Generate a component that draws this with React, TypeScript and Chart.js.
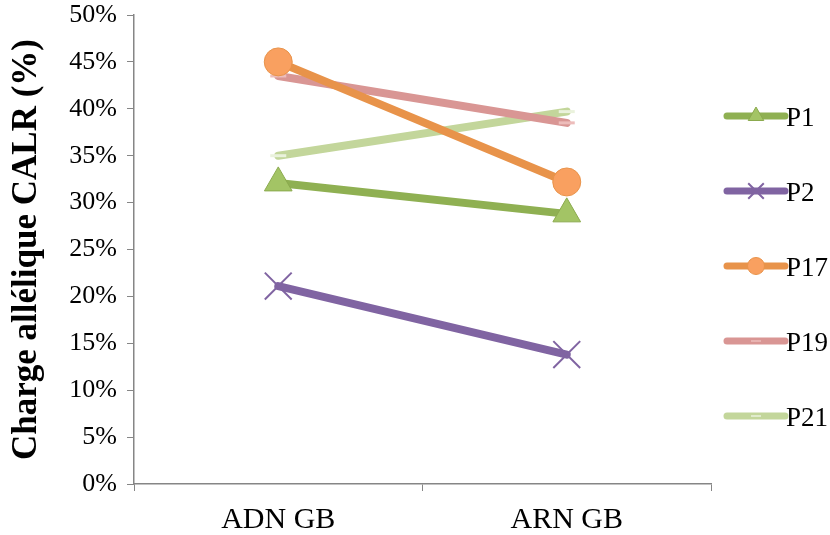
import React, { useEffect, useRef } from "react";
import { Chart, registerables } from "chart.js";
import { drawPoint } from "chart.js/helpers";

Chart.register(...registerables);

const categories = ["ADN GB", "ARN GB"];
const seriesNames = ["P1", "P2", "P17", "P19", "P21"];
const p1 = [32.1, 28.8];
const p2 = [21.1, 13.8];
const p17 = [45.0, 32.2];
const p19 = [43.5, 38.5];
const p21 = [35.0, 39.7];
const yTicks = [0, 5, 10, 15, 20, 25, 30, 35, 40, 45, 50];

const lineColors = ["#8FB052", "#8064A2", "#E8934A", "#D99694", "#C3D69B"];
const pointFill = ["#A3C465", "#8064A2", "#F9A060", "#E6B0AE", "#E3EDCF"];
const pointBorder = ["#8BAA4E", "#8064A2", "#E8934A", "#EDBDBB", "#EAF2DC"];
const pointStyles: any[] = ["triangle", "crossRot", "circle", "line", "line"];
const pointRadii = [16, 19, 14, 8, 8];
const legendRadii = [9, 11, 8.5, 5, 5];

const serif = "'Liberation Serif', 'Times New Roman', serif";

const legendPlugin = {
  id: "customLegend",
  afterDraw(chart: any) {
    const ctx = chart.ctx;
    const area = chart.chartArea;
    const x0 = area.right + 16;
    const x1 = x0 + 58;
    chart.data.datasets.forEach((ds: any, i: number) => {
      const y = area.top + 101 + i * 75;
      ctx.save();
      ctx.strokeStyle = ds.borderColor;
      ctx.lineWidth = 7;
      ctx.lineCap = "round";
      ctx.beginPath();
      ctx.moveTo(x0, y);
      ctx.lineTo(x1, y);
      ctx.stroke();
      ctx.restore();
      const cx = (x0 + x1) / 2;
      ctx.save();
      ctx.fillStyle = ds.pointBackgroundColor;
      ctx.strokeStyle = ds.pointBorderColor;
      const style = ds.pointStyle;
      if (style === "line") {
        ctx.lineWidth = 1.5;
        ctx.beginPath();
        ctx.moveTo(cx - legendRadii[i], y);
        ctx.lineTo(cx + legendRadii[i], y);
        ctx.stroke();
      } else {
        const bw = style === "crossRot" ? 2 : 1;
        ctx.lineWidth = bw;
        drawPoint(ctx, { pointStyle: style, radius: legendRadii[i], borderWidth: bw, rotation: 0 } as any, cx, y);
      }
      ctx.restore();
      ctx.save();
      ctx.fillStyle = "#000";
      ctx.font = `27px ${serif}`;
      ctx.textBaseline = "middle";
      ctx.textAlign = "left";
      ctx.fillText(seriesNames[i], x1 + 1, y + 3);
      ctx.restore();
    });
  },
};

export default function App() {
  const ref = useRef<HTMLCanvasElement | null>(null);
  useEffect(() => {
    document.body.style.margin = "0";
    const allData = [p1, p2, p17, p19, p21];
    const chart = new Chart(ref.current as HTMLCanvasElement, {
      type: "line",
      data: {
        labels: categories,
        datasets: seriesNames.map((name, i) => ({
          label: name,
          data: allData[i],
          borderColor: lineColors[i],
          borderWidth: 8,
          borderCapStyle: "round" as const,
          pointStyle: pointStyles[i],
          pointRadius: pointRadii[i],
          pointBackgroundColor: pointFill[i],
          pointBorderColor: pointBorder[i],
          pointBorderWidth: i === 1 ? 2 : i >= 3 ? 3 : 1,
          tension: 0,
        })),
      },
      options: {
        animation: false,
        responsive: false,
        events: [],
        layout: { autoPadding: false, padding: { top: 15, right: 119, left: 0, bottom: 0 } },
        plugins: { legend: { display: false }, tooltip: { enabled: false } },
        scales: {
          x: {
            offset: true,
            grid: {
              display: true,
              offset: true,
              drawOnChartArea: false,
              drawTicks: true,
              tickLength: 7,
              color: "#868686",
            },
            border: { color: "#868686", width: 1.5 },
            ticks: { color: "#000", font: { family: serif, size: 30 }, padding: 11 },
            afterFit: (s: any) => {
              s.height = 51;
              s.paddingLeft = 0;
              s.paddingRight = 0;
            },
          },
          y: {
            min: 0,
            max: 50,
            afterBuildTicks: (s: any) => {
              s.ticks = yTicks.map((v) => ({ value: v }));
            },
            grid: {
              display: true,
              drawOnChartArea: false,
              drawTicks: true,
              tickLength: 7,
              color: "#868686",
            },
            border: { color: "#868686", width: 1.5 },
            ticks: {
              color: "#000",
              font: { family: serif, size: 26 },
              padding: 10,
              callback: (v: any) => `${v}%`,
            },
            title: {
              display: true,
              text: "Charge allélique CALR (%)",
              color: "#000",
              font: { family: serif, size: 35, weight: "bold" },
              padding: { top: 6, bottom: 0 },
            },
            afterFit: (s: any) => {
              s.width = 134;
              s.paddingTop = 0;
              s.paddingBottom = 0;
            },
          },
        },
      },
      plugins: [legendPlugin],
    });
    return () => chart.destroy();
  }, []);
  return (
    <div style={{ width: 830, height: 535 }}>
      <canvas ref={ref} width={830} height={535} style={{ display: "block" }} />
    </div>
  );
}
